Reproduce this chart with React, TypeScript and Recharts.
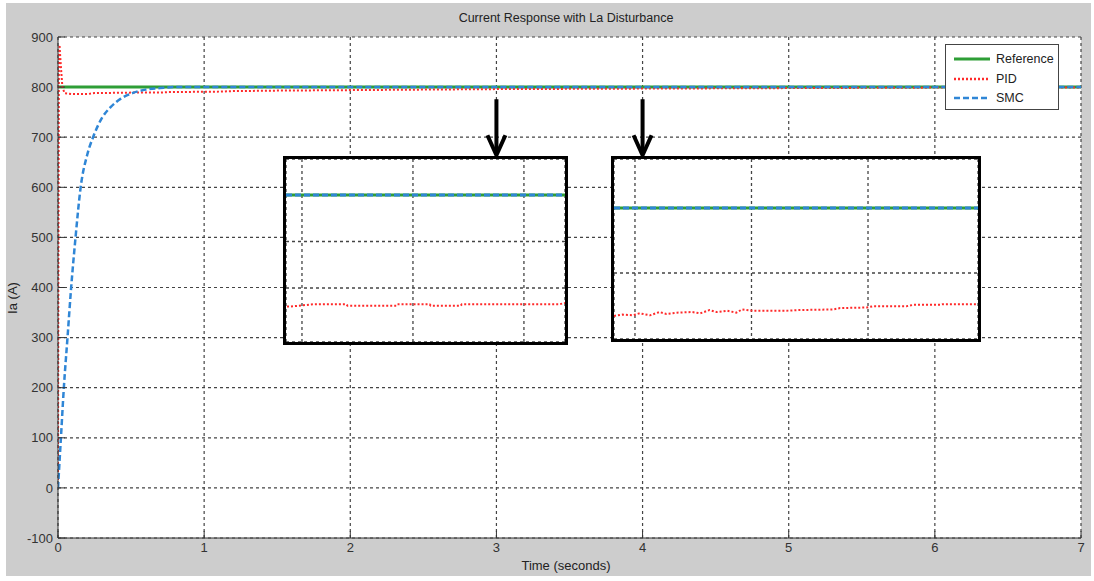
import {
  LineChart,
  Line,
  XAxis,
  YAxis,
  CartesianGrid,
  ReferenceDot,
} from "recharts";

// main axes
const X_TICKS = [0, 1, 2, 3, 4, 5, 6, 7];
const Y_TICKS = [-100, 0, 100, 200, 300, 400, 500, 600, 700, 800, 900];

// series (t in seconds, v in A)
const referenceData = [
  { t: 0, v: 800 },
  { t: 7, v: 800 },
];
const pidData = [
  { t: 0, v: 0 },
  { t: 0.003, v: 500 },
  { t: 0.006, v: 860 },
  { t: 0.01, v: 884 },
  { t: 0.02, v: 840 },
  { t: 0.03, v: 800 },
  { t: 0.045, v: 788 },
  { t: 0.1, v: 786 },
  { t: 0.2, v: 786 },
  { t: 0.25, v: 788 },
  { t: 0.5, v: 789 },
  { t: 0.7, v: 789 },
  { t: 0.75, v: 790 },
  { t: 1.1, v: 791 },
  { t: 1.2, v: 792 },
  { t: 1.5, v: 793 },
  { t: 2, v: 794 },
  { t: 3, v: 796 },
  { t: 4, v: 797 },
  { t: 5, v: 798 },
  { t: 6, v: 799 },
  { t: 7, v: 799 },
];
const smcData = [
  { t: 0, v: 0 },
  { t: 0.02, v: 100 },
  { t: 0.04, v: 200 },
  { t: 0.065, v: 300 },
  { t: 0.09, v: 400 },
  { t: 0.12, v: 500 },
  { t: 0.155, v: 600 },
  { t: 0.2, v: 665 },
  { t: 0.24, v: 700 },
  { t: 0.3, v: 738 },
  { t: 0.36, v: 760 },
  { t: 0.43, v: 777 },
  { t: 0.5, v: 787 },
  { t: 0.6, v: 795 },
  { t: 0.7, v: 798 },
  { t: 0.8, v: 800 },
  { t: 7, v: 800 },
];

// arrows pointing from the curves down to the zoom boxes
const arrowTimes = [3, 4];
const ARROW_TIP = 664;

// zoom box 1 (around t = 3)
const zoom1X = [2.9356, 3.187];
const zoom1Y = [796.839, 800.774];
const zoom1XTicks = [2.95, 3.05, 3.15];
const zoom1YTicks = [797, 798, 799, 800];
const zoom1Ref = [
  { t: 2.9356, v: 800 },
  { t: 3.187, v: 800 },
];
const zoom1Pid = [
  { t: 2.9365, v: 797.6 },
  { t: 2.939, v: 797.6 },
  { t: 2.96, v: 797.65 },
  { t: 2.99, v: 797.65 },
  { t: 2.991, v: 797.62 },
  { t: 3.035, v: 797.62 },
  { t: 3.036, v: 797.65 },
  { t: 3.065, v: 797.65 },
  { t: 3.066, v: 797.62 },
  { t: 3.093, v: 797.62 },
  { t: 3.094, v: 797.65 },
  { t: 3.182, v: 797.65 },
  { t: 3.187, v: 797.68 },
];

// zoom box 2 (around t = 4)
const zoom2X = [3.932, 4.2444];
const zoom2Y = [797.985, 800.754];
const zoom2XTicks = [3.95, 4.05, 4.15];
const zoom2YTicks = [798, 799, 800];
const zoom2Ref = [
  { t: 3.932, v: 800 },
  { t: 4.2444, v: 800 },
];
const zoom2Pid = [
  { t: 3.932, v: 798.34 },
  { t: 3.939, v: 798.36 },
  { t: 3.948, v: 798.35 },
  { t: 3.954, v: 798.38 },
  { t: 3.963, v: 798.35 },
  { t: 3.971, v: 798.4 },
  { t: 3.977, v: 798.37 },
  { t: 3.986, v: 798.39 },
  { t: 3.999, v: 798.4 },
  { t: 4.006, v: 798.38 },
  { t: 4.014, v: 798.43 },
  { t: 4.02, v: 798.4 },
  { t: 4.029, v: 798.42 },
  { t: 4.037, v: 798.39 },
  { t: 4.042, v: 798.44 },
  { t: 4.051, v: 798.42 },
  { t: 4.08, v: 798.42 },
  { t: 4.091, v: 798.43 },
  { t: 4.12, v: 798.44 },
  { t: 4.126, v: 798.46 },
  { t: 4.149, v: 798.47 },
  { t: 4.155, v: 798.49 },
  { t: 4.183, v: 798.49 },
  { t: 4.189, v: 798.51 },
  { t: 4.212, v: 798.51 },
  { t: 4.214, v: 798.52 },
  { t: 4.243, v: 798.52 },
];

const GREEN = "#2e9e36";
const RED = "#ff2a2a";
const BLUE = "#2f86d6";
const GRID = "#444";
const FONT = "'Liberation Sans', Arial, sans-serif";

const tickStyle = { fill: "#333", fontSize: 13, fontFamily: FONT };

const Arrow = ({ cx, cy }: { cx?: number; cy?: number }) => {
  if (cx == null || cy == null) return null;
  return (
    <g stroke="#000" strokeWidth={4} fill="none" strokeLinecap="butt">
      <line x1={cx} y1={cy - 56} x2={cx} y2={cy - 2} />
      <polyline points={`${cx - 9},${cy - 20} ${cx},${cy} ${cx + 9},${cy - 20}`} strokeLinejoin="miter" />
    </g>
  );
};

function ZoomBox({
  left,
  top,
  width,
  height,
  xDomain,
  yDomain,
  xTicks,
  yTicks,
  refData,
  pid,
}: {
  left: number;
  top: number;
  width: number;
  height: number;
  xDomain: number[];
  yDomain: number[];
  xTicks: number[];
  yTicks: number[];
  refData: { t: number; v: number }[];
  pid: { t: number; v: number }[];
}) {
  return (
    <div
      style={{
        position: "absolute",
        left,
        top,
        width,
        height,
        border: "3px solid #000",
        boxSizing: "border-box",
        background: "#fff",
      }}
    >
      <LineChart width={width - 6} height={height - 6} margin={{ top: 0, right: 0, bottom: 0, left: 0 }}>
        <CartesianGrid stroke={GRID} strokeDasharray="3 3" strokeWidth={1.3} />
        <XAxis dataKey="t" type="number" domain={xDomain} ticks={xTicks} hide allowDataOverflow />
        <YAxis type="number" domain={yDomain} ticks={yTicks} hide allowDataOverflow />
        <Line data={refData} dataKey="v" stroke={GREEN} strokeWidth={3} dot={false} isAnimationActive={false} />
        <Line data={pid} dataKey="v" stroke={RED} strokeWidth={2} strokeDasharray="2 2" dot={false} isAnimationActive={false} />
        <Line data={refData} dataKey="v" stroke={BLUE} strokeWidth={3} strokeDasharray="6 3" dot={false} isAnimationActive={false} />
      </LineChart>
    </div>
  );
}

const legendRows = [
  { name: "Reference", color: GREEN, dash: undefined },
  { name: "PID", color: RED, dash: "2 2" },
  { name: "SMC", color: BLUE, dash: "6 3" },
];

export default function App() {
  return (
    <div style={{ position: "absolute", left: 0, top: 0, width: 1094, height: 581, background: "#fff", fontFamily: FONT }}>
      <div style={{ position: "absolute", left: 6, top: 3, width: 1085, height: 573, background: "#cdcdcd" }} />
      <div style={{ position: "absolute", left: 0, top: 0 }}>
        <LineChart width={1094} height={581} margin={{ top: 37, right: 13, bottom: 13, left: 8 }}>
          <CartesianGrid stroke={GRID} strokeDasharray="3 3" strokeWidth={1.2} fill="#fff" fillOpacity={1} />
          <XAxis
            dataKey="t"
            type="number"
            domain={[0, 7]}
            ticks={X_TICKS}
            height={30}
            tickSize={-7}
            tickMargin={12}
            tick={tickStyle}
            stroke="#333"
            allowDataOverflow
          />
          <XAxis xAxisId="top" orientation="top" type="number" domain={[0, 7]} ticks={X_TICKS} height={0} tickSize={-7} tick={false} stroke="#333" />
          <YAxis
            type="number"
            domain={[-100, 900]}
            ticks={Y_TICKS}
            width={50}
            tickSize={-7}
            tickMargin={12}
            tick={tickStyle}
            stroke="#333"
            allowDataOverflow
          />
          <YAxis yAxisId="right" orientation="right" type="number" domain={[-100, 900]} ticks={Y_TICKS} width={0} tickSize={-7} tick={false} stroke="#333" />
          <Line data={referenceData} dataKey="v" stroke={GREEN} strokeWidth={3} dot={false} isAnimationActive={false} />
          <Line data={pidData} dataKey="v" stroke={RED} strokeWidth={2} strokeDasharray="2 2" dot={false} isAnimationActive={false} />
          <Line data={smcData} dataKey="v" type="monotone" stroke={BLUE} strokeWidth={2.5} strokeDasharray="6 3" dot={false} isAnimationActive={false} />
          {arrowTimes.map((t) => (
            <ReferenceDot key={t} x={t} y={ARROW_TIP} r={0} shape={<Arrow />} />
          ))}
        </LineChart>
      </div>

      <ZoomBox left={283} top={156} width={285} height={189} xDomain={zoom1X} yDomain={zoom1Y} xTicks={zoom1XTicks} yTicks={zoom1YTicks} refData={zoom1Ref} pid={zoom1Pid} />
      <ZoomBox left={611} top={156} width={370} height={186} xDomain={zoom2X} yDomain={zoom2Y} xTicks={zoom2XTicks} yTicks={zoom2YTicks} refData={zoom2Ref} pid={zoom2Pid} />

      <div
        style={{
          position: "absolute",
          left: 945,
          top: 44,
          width: 114,
          height: 66,
          boxSizing: "border-box",
          border: "1px solid #444",
          background: "#fff",
        }}
      >
        {legendRows.map((r, i) => (
          <div key={r.name} style={{ position: "absolute", left: 6, top: 6 + i * 19.5, height: 16, display: "flex", alignItems: "center" }}>
            <svg width={40} height={16}>
              <line x1={2} y1={8} x2={38} y2={8} stroke={r.color} strokeWidth={r.dash ? 2.5 : 3} strokeDasharray={r.dash} />
            </svg>
            <span style={{ fontSize: 12.5, color: "#222", marginLeft: 4 }}>{r.name}</span>
          </div>
        ))}
      </div>

      <div style={{ position: "absolute", left: 0, width: 1132, top: 11, textAlign: "center", fontSize: 12.5, color: "#222" }}>
        Current Response with La Disturbance
      </div>
      <div style={{ position: "absolute", left: 0, width: 1132, top: 558, textAlign: "center", fontSize: 13, color: "#222" }}>
        Time (seconds)
      </div>
      <div
        style={{
          position: "absolute",
          left: 12,
          top: 298,
          transform: "translate(-50%, -50%) rotate(-90deg)",
          fontSize: 13,
          color: "#222",
          whiteSpace: "nowrap",
        }}
      >
        Ia (A)
      </div>
    </div>
  );
}
